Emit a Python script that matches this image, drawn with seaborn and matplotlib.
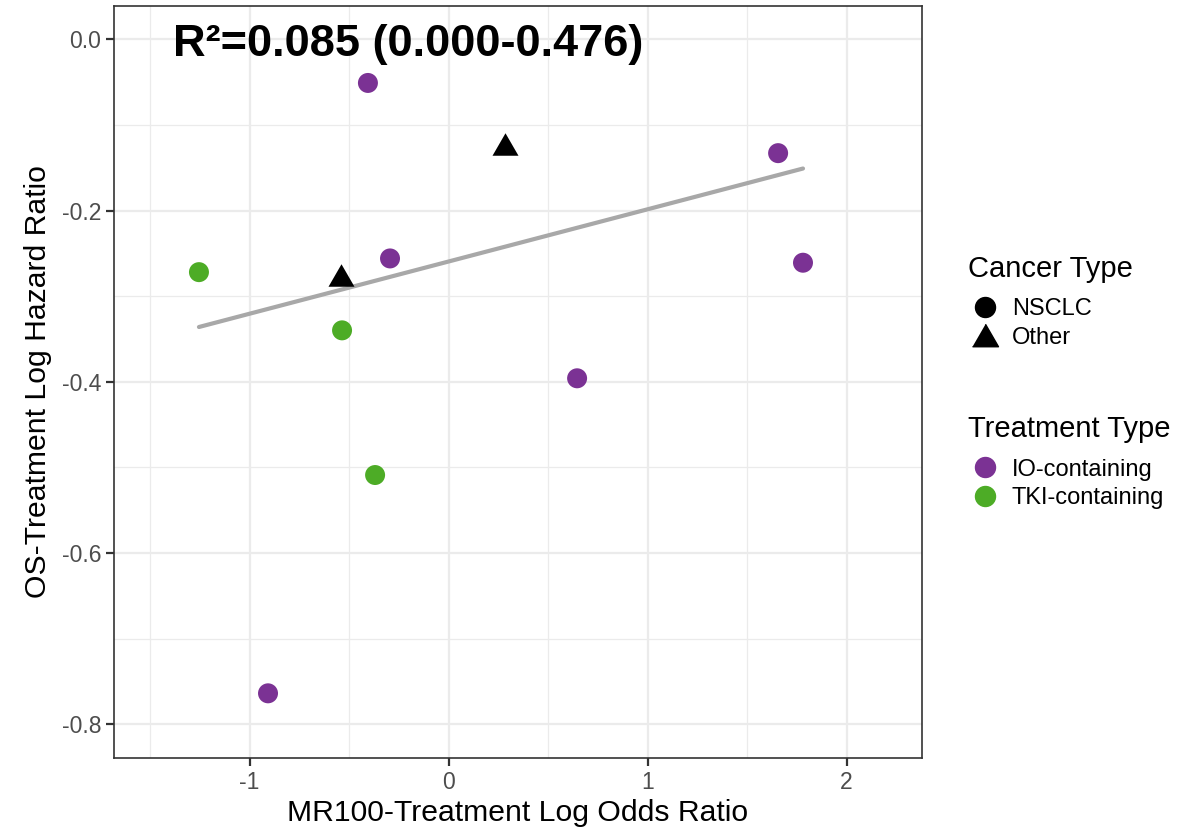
import numpy as np
import pandas as pd
import matplotlib
matplotlib.use("Agg")
import matplotlib.pyplot as plt
from matplotlib.lines import Line2D
import seaborn as sns

# data
log_or = [-0.405, 0.284, 1.656, 1.781, -1.254, -0.540, -0.294, -0.535, 0.646, -0.369, -0.907]
log_hr = [-0.051, -0.122, -0.133, -0.261, -0.272, -0.275, -0.256, -0.340, -0.396, -0.509, -0.764]
cancer = ["NSCLC", "Other", "NSCLC", "NSCLC", "NSCLC", "Other", "NSCLC", "NSCLC", "NSCLC", "NSCLC", "NSCLC"]
treatment = ["IO-containing", "", "IO-containing", "IO-containing", "TKI-containing", "",
             "IO-containing", "TKI-containing", "IO-containing", "TKI-containing", "IO-containing"]

# fitted line (intercept, slope) as shown
fit_intercept = -0.2596
fit_slope = 0.0610
r2_text = "R²=0.085 (0.000-0.476)"

palette = {"IO-containing": "#7B3294", "TKI-containing": "#4DAC26"}

df = pd.DataFrame({"x": log_or, "y": log_hr, "cancer": cancer, "treatment": treatment})

sns.set_theme(style="white")
plt.rcParams["font.family"] = ["Liberation Sans", "DejaVu Sans"]
plt.rcParams["text.color"] = "black"

fig = plt.figure(figsize=(12.01, 8.32), dpi=100)
ax = fig.add_axes([0.0949, 0.0889, 0.6728, 0.9039])

# grid like theme_bw
ax.set_xlim(-1.681, 2.379)
ax.set_ylim(-0.8396, 0.0389)
ax.set_xticks([-1, 0, 1, 2])
ax.set_yticks([0.0, -0.2, -0.4, -0.6, -0.8])
ax.set_xticks([-1.5, -0.5, 0.5, 1.5], minor=True)
ax.set_yticks([-0.1, -0.3, -0.5, -0.7], minor=True)
ax.grid(True, which="major", color="#EBEBEB", linewidth=1.6)
ax.grid(True, which="minor", color="#EBEBEB", linewidth=0.9)
ax.set_axisbelow(True)

# fit line
fit_x = np.array([df["x"].min(), df["x"].max()])
fit = pd.DataFrame({"x": fit_x, "y": fit_intercept + fit_slope * fit_x})
sns.lineplot(data=fit, x="x", y="y", color="#A8A8A8", linewidth=3.0, ax=ax, legend=False)

tri = [(-1, -0.866), (1, -0.866), (0, 0.866)]

nsclc = df[df["cancer"] == "NSCLC"]
sns.scatterplot(data=nsclc, x="x", y="y", hue="treatment", palette=palette,
                s=207, linewidth=0, ax=ax, legend=False, zorder=3)
other = df[df["cancer"] == "Other"]
sns.scatterplot(data=other, x="x", y="y", color="black", marker=tri,
                s=350, linewidth=0, ax=ax, legend=False, zorder=3)

ax.set_yticklabels(["0.0", "-0.2", "-0.4", "-0.6", "-0.8"])
ax.set_xticklabels(["-1", "0", "1", "2"])
ax.tick_params(which="major", direction="out", length=6, width=1.6, color="#333333",
               labelsize=16.5, labelcolor="#4D4D4D", bottom=True, left=True, pad=3)
ax.tick_params(which="minor", length=0)
for sp in ax.spines.values():
    sp.set_color("#333333")
    sp.set_linewidth(1.2)

ax.set_xlabel("MR100-Treatment Log Odds Ratio", fontsize=21.7, color="black", labelpad=4)
ax.set_ylabel("OS-Treatment Log Hazard Ratio", fontsize=21.7, color="black", labelpad=7)

ax.text(0.073, 0.9335, r2_text, transform=ax.transAxes, fontsize=32.5, fontweight="bold",
        ha="left", va="baseline", color="black")

# legends
h_cancer = [Line2D([], [], marker="o", color="black", linestyle="", markersize=14.4),
            Line2D([], [], marker=tri, color="black", linestyle="", markersize=18.7)]
leg1 = fig.legend(h_cancer, ["NSCLC", "Other"], title="Cancer Type", loc="upper left",
                  bbox_to_anchor=(0.798, 0.705), frameon=False, fontsize=17,
                  title_fontsize=21, handletextpad=0.42, labelspacing=0.27,
                  handlelength=1.44, alignment="left", borderaxespad=0, labelcolor="black")
leg1._legend_box.sep = 11
h_treat = [Line2D([], [], marker="o", color=palette[k], linestyle="", markersize=14.4)
           for k in palette]
leg2 = fig.legend(h_treat, list(palette), title="Treatment Type", loc="upper left",
                  bbox_to_anchor=(0.798, 0.512), frameon=False, fontsize=17,
                  title_fontsize=21, handletextpad=0.42, labelspacing=0.27,
                  handlelength=1.44, alignment="left", borderaxespad=0, labelcolor="black")
leg2._legend_box.sep = 11
for leg in (leg1, leg2):
    leg.get_title().set_color("black")

fig.savefig("out.png", dpi=100)
